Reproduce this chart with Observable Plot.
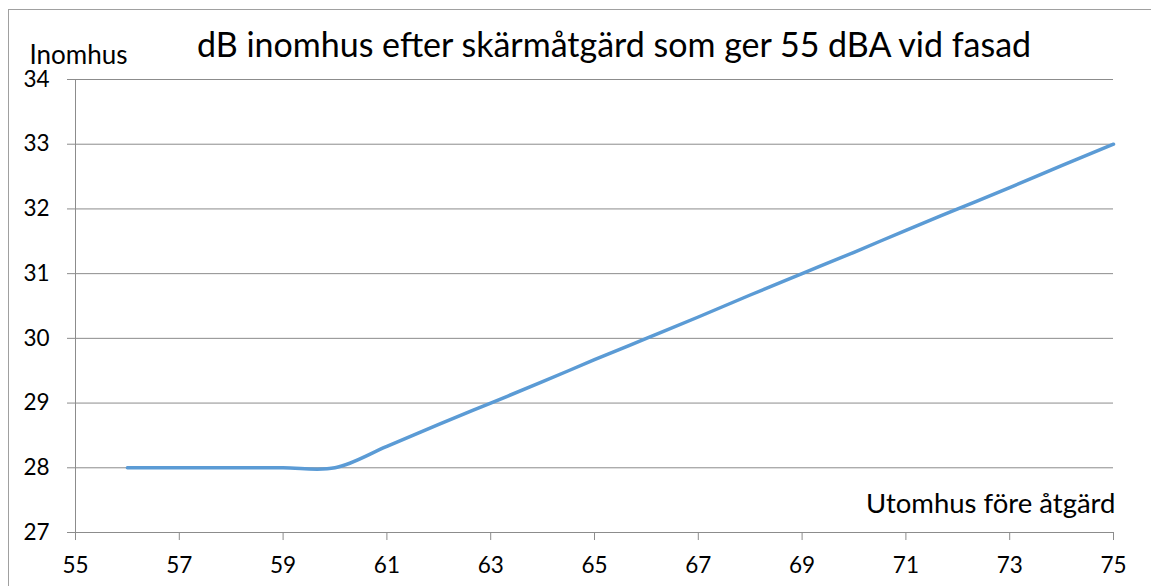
<!DOCTYPE html>
<html><head><meta charset="utf-8">
<script src="https://cdn.jsdelivr.net/npm/d3@7"></script>
<script src="https://cdn.jsdelivr.net/npm/@observablehq/plot@0.6"></script>
<style>
body{margin:0;background:#fff;overflow:hidden;}
#frame{position:absolute;left:8px;top:9px;width:1200px;height:700px;border:1px solid #a0a0a0;box-sizing:border-box;}
#chart{position:absolute;left:0;top:0;}
</style></head><body>
<div id="frame"></div>
<div id="chart"></div>
<script>
const utomhus = [56,57,58,59,60,61,62,63,64,65,66,67,68,69,70,71,72,73,74,75];
const inomhus = [28,28,28,28,28,28.33,28.67,29,29.33,29.67,30,30.33,30.67,31,31.33,31.67,32,32.33,32.67,33];
const xTicks = [55,57,59,61,63,65,67,69,71,73,75];
const yTicks = [27,28,29,30,31,32,33,34];
const title = "dB inomhus efter skärmåtgärd som ger 55 dBA vid fasad";
const yLabel = "Inomhus";
const xLabel = "Utomhus före åtgärd";

const data = utomhus.map((x,i)=>({x, y: inomhus[i]}));
const font = "Lato, 'Open Sans', sans-serif";

const chart = Plot.plot({
  width: 1151, height: 586,
  marginLeft: 75, marginRight: 38, marginTop: 79, marginBottom: 54,
  style: {fontFamily: font, background: "transparent", color: "#000"},
  x: {domain: [55,75], axis: null},
  y: {domain: [27,34], axis: null},
  marks: [
    Plot.ruleY(yTicks, {y: d=>d, x1: 54.846, x2: 75, stroke: "#8c8c8c", strokeWidth: 1}),
    Plot.ruleX([55], {x: d=>d, y1: 34, y2: 26.876, stroke: "#8c8c8c"}),
    Plot.ruleX(xTicks, {x: d=>d, y1: 27, y2: 26.876, stroke: "#8c8c8c"}),
    Plot.text(yTicks, {x: 55, y: d=>d, text: d=>String(d), textAnchor: "end", dx: -26, fontSize: 22.5, fill: "#000"}),
    Plot.text(xTicks, {x: d=>d, y: 27, text: d=>String(d), dy: 33, fontSize: 22.5, fill: "#000"}),
    Plot.line(data, {x: "x", y: "y", stroke: "#5b9bd5", strokeWidth: 3.5, curve: "catmull-rom"}),
    Plot.text([title], {frameAnchor: "top", text: d=>d, dy: -47, dx: 19.5, fontSize: 34, fill: "#000", style: "letter-spacing:0.9px"}),
    Plot.text([yLabel], {frameAnchor: "top-left", text: d=>d, dx: -46, dy: -34, fontSize: 26, textAnchor: "start", fill: "#000"}),
    Plot.text([xLabel], {frameAnchor: "bottom-right", text: d=>d, dx: 2, dy: -20, fontSize: 27.5, textAnchor: "end", fill: "#000"})
  ]
});
document.getElementById("chart").appendChild(chart);
</script>
</body></html>
